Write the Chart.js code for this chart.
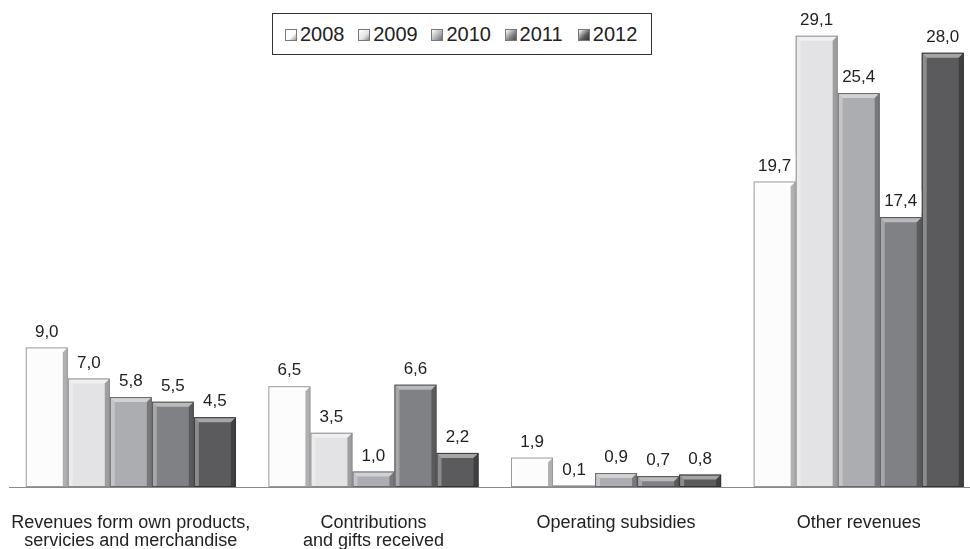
<!DOCTYPE html>
<html>
<head>
<meta charset="utf-8">
<script src="https://cdn.jsdelivr.net/npm/chart.js@4"></script>
<style>
  html, body { margin: 0; padding: 0; background: #fff; overflow: hidden; }
  #wrap { position: relative; width: 970px; height: 549px; overflow: hidden; }
  #chart { position: absolute; left: -8px; top: 0; }
  #legend {
    position: absolute; left: 272px; top: 13px; width: 366px; height: 40px;
    border: 1px solid #333; background: #fff; box-sizing: content-box;
    display: flex; align-items: center; padding-left: 12px;
    font-family: "Liberation Sans", Arial, sans-serif; font-size: 20px; color: #222;
  }
  .item { display: flex; align-items: center; width: 74px; }
  .sw { width: 10px; height: 10px; margin-right: 3px; margin-top: 2px; border: 1px solid #777; }
</style>
</head>
<body>
<div id="wrap">
  <canvas id="chart" width="988" height="549"></canvas>
  <div id="legend"></div>
</div>
<script>
const categories = [
  ['Revenues form own products,', 'servicies and merchandise'],
  ['Contributions', 'and gifts received'],
  ['Operating subsidies'],
  ['Other revenues']
];
const years = ['2008', '2009', '2010', '2011', '2012'];
const values2008 = [9.0, 6.5, 1.9, 19.7];
const values2009 = [7.0, 3.5, 0.1, 29.1];
const values2010 = [5.8, 1.0, 0.9, 25.4];
const values2011 = [5.5, 6.6, 0.7, 17.4];
const values2012 = [4.5, 2.2, 0.8, 28.0];
const fills = ['#fcfcfc', '#e3e3e5', '#acadb0', '#808184', '#5b5b5d'];
const edges = ['#9a9a9a', '#8a8a8a', '#6a6a6c', '#4e4e50', '#333335'];

const series = [values2008, values2009, values2010, values2011, values2012];

// legend built from the same years / colours
const legendEl = document.getElementById('legend');
years.forEach((y, i) => {
  const it = document.createElement('div');
  it.className = 'item';
  it.innerHTML = '<span class="sw" style="background:linear-gradient(135deg,#fff,' + fills[i] + ' 60%,' + edges[i] + ')"></span>' + y;
  legendEl.appendChild(it);
});

// simple bevel on each bar: light top/left, dark right edge
const bevelPlugin = {
  id: 'bevel',
  afterDatasetsDraw(chart) {
    const ctx = chart.ctx;
    chart.data.datasets.forEach((ds, di) => {
      chart.getDatasetMeta(di).data.forEach(bar => {
        const l = bar.x - bar.width / 2, r = bar.x + bar.width / 2;
        const t = bar.y, b = bar.base;
        const h = b - t;
        const bv = Math.min(5, h / 2);
        if (h < 1) return;
        ctx.save();
        // top bevel
        ctx.fillStyle = 'rgba(255,255,255,0.45)';
        ctx.beginPath();
        ctx.moveTo(l, t); ctx.lineTo(r, t); ctx.lineTo(r - bv, t + bv); ctx.lineTo(l + bv, t + bv);
        ctx.closePath(); ctx.fill();
        // left highlight
        ctx.fillStyle = 'rgba(255,255,255,0.3)';
        ctx.beginPath();
        ctx.moveTo(l, t); ctx.lineTo(l + bv, t + bv); ctx.lineTo(l + bv, b); ctx.lineTo(l, b);
        ctx.closePath(); ctx.fill();
        // right shade
        ctx.fillStyle = 'rgba(0,0,0,0.3)';
        ctx.beginPath();
        ctx.moveTo(r, t); ctx.lineTo(r - bv, t + bv); ctx.lineTo(r - bv, b); ctx.lineTo(r, b);
        ctx.closePath(); ctx.fill();
        ctx.strokeStyle = edges[di];
        ctx.lineWidth = 1;
        ctx.strokeRect(l + 0.5, t + 0.5, bar.width - 1, h - 1);
        ctx.restore();
      });
    });
  }
};

// value labels above bars, decimal comma
const valueLabels = {
  id: 'valueLabels',
  afterDatasetsDraw(chart) {
    const ctx = chart.ctx;
    ctx.save();
    ctx.font = '17px "Liberation Sans", Arial, sans-serif';
    ctx.textAlign = 'center';
    ctx.textBaseline = 'bottom';
    chart.data.datasets.forEach((ds, di) => {
      chart.getDatasetMeta(di).data.forEach((bar, i) => {
        const txt = ds.data[i].toFixed(1).replace('.', ',');
        const w = ctx.measureText(txt).width;
        const y = bar.y - 7;
        ctx.fillStyle = '#fff';
        ctx.fillRect(bar.x - w / 2 - 4, y - 20, w + 8, 23);
        ctx.fillStyle = '#222';
        ctx.fillText(txt, bar.x, y);
      });
    });
    ctx.restore();
  }
};

new Chart(document.getElementById('chart'), {
  type: 'bar',
  data: {
    labels: categories,
    datasets: years.map((y, i) => ({
      label: y,
      data: series[i],
      backgroundColor: fills[i],
      borderWidth: 0,
      categoryPercentage: 0.866,
      barPercentage: 1.0
    }))
  },
  options: {
    responsive: false,
    animation: false,
    layout: { padding: { left: 2, right: 0, top: 0, bottom: -20 } },
    plugins: { legend: { display: false }, tooltip: { enabled: false } },
    scales: {
      x: {
        grid: { display: false },
        border: { display: true, color: '#8a8a8a', width: 1 },
        ticks: {
          color: '#222',
          padding: 19,
          maxRotation: 0,
          autoSkip: false,
          font: { family: '"Liberation Sans", Arial, sans-serif', size: 18, lineHeight: 1.0 }
        }
      },
      y: { display: false, min: 0, max: 31.4 }
    }
  },
  plugins: [bevelPlugin, valueLabels]
});
</script>
</body>
</html>
